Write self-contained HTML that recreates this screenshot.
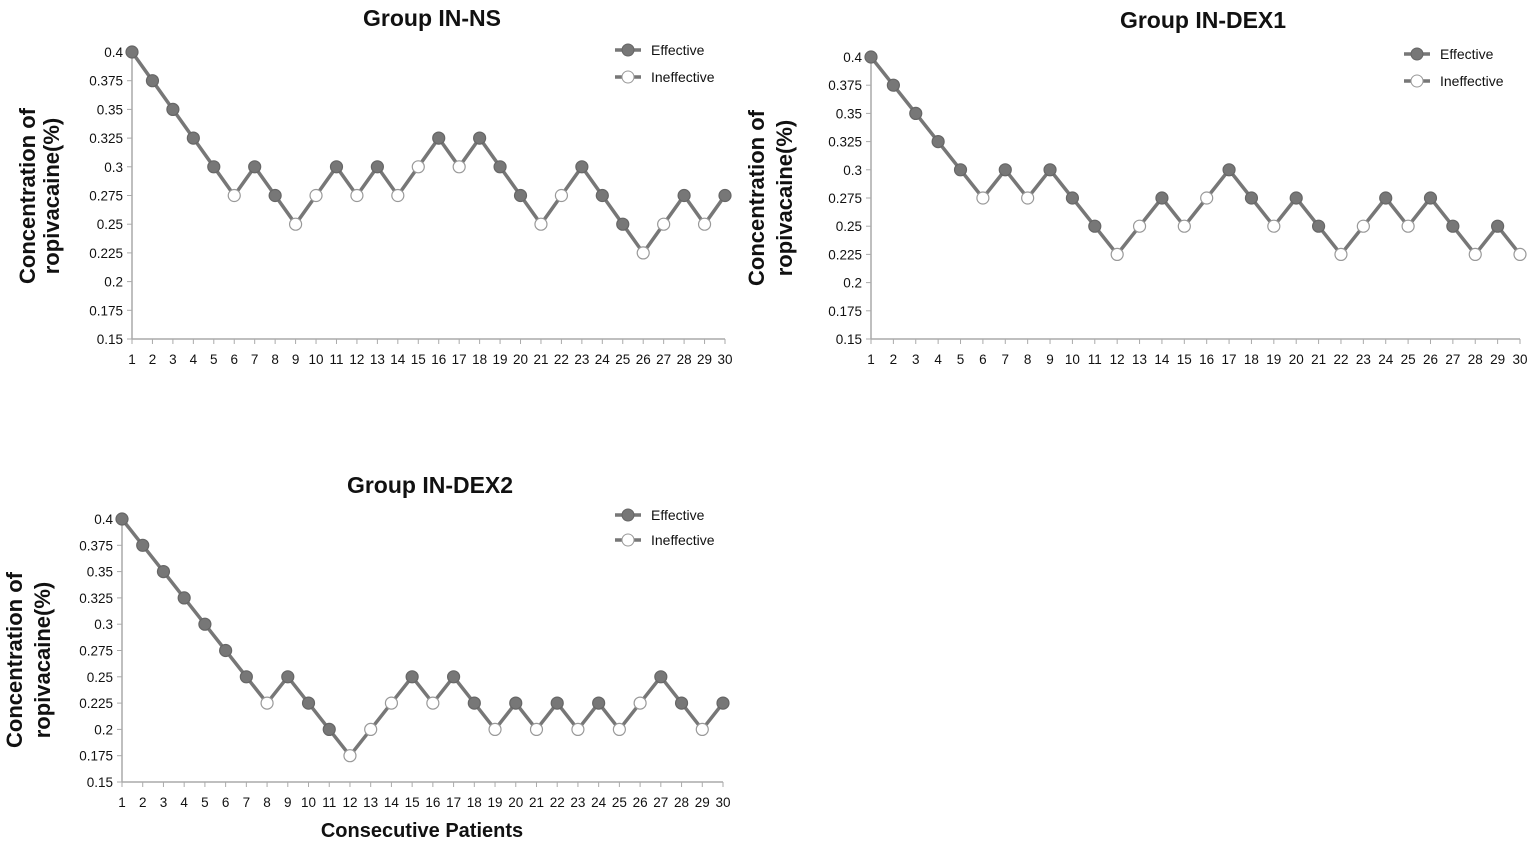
<!DOCTYPE html>
<html><head><meta charset="utf-8"><style>
body{margin:0;background:#fff;width:1535px;height:843px;overflow:hidden}
svg text{font-family:"Liberation Sans",sans-serif}
</style></head><body>
<svg id="s" width="1535" height="843" xmlns="http://www.w3.org/2000/svg"></svg>
<script>
const s=document.getElementById('s');let h='';
const ticks=['0.4','0.375','0.35','0.325','0.3','0.275','0.25','0.225','0.2','0.175','0.15'];
function chart(c){
 const {x0,x1,y0,y1,title,tx,ty,lx,ly1,ly2,yl1,yl2,ylc,data}=c;
 const X=i=>x0+(x1-x0)*i/29, Y=v=>y0+(0.4-v)/0.25*(y1-y0);
 h+=`<text x="${tx}" y="${ty}" font-size="23" font-weight="bold" text-anchor="middle" fill="#111">${title}</text>`;
 h+=`<line x1="${x0}" y1="${y0-4}" x2="${x0}" y2="${y1}" stroke="#aaa" stroke-width="1.5"/>`;
 h+=`<line x1="${x0}" y1="${y1}" x2="${x1}" y2="${y1}" stroke="#aaa" stroke-width="1.5"/>`;
 ticks.forEach((t,k)=>{const y=y0+k*(y1-y0)/10;h+=`<line x1="${x0-5}" y1="${y}" x2="${x0}" y2="${y}" stroke="#aaa"/><text x="${x0-9}" y="${y+5}" font-size="13.5" text-anchor="end" fill="#111">${t}</text>`});
 for(let i=0;i<30;i++){const x=X(i);h+=`<line x1="${x}" y1="${y1}" x2="${x}" y2="${y1+5}" stroke="#aaa"/><text x="${x}" y="${y1+25}" font-size="13.5" text-anchor="middle" fill="#111">${i+1}</text>`}
 h+=`<polyline fill="none" stroke="#777" stroke-width="3.5" points="${data.map((d,i)=>X(i)+','+Y(d[0])).join(' ')}"/>`;
 data.forEach((d,i)=>{h+=`<circle cx="${X(i)}" cy="${Y(d[0])}" r="6" fill="${d[1]?'#777':'#fff'}" stroke="${d[1]?'#666':'#999'}" stroke-width="1.2"/>`});
 [[ly1,1,'Effective'],[ly2,0,'Ineffective']].forEach(([y,e,t])=>{h+=`<line x1="${lx}" y1="${y}" x2="${lx+26}" y2="${y}" stroke="#777" stroke-width="3.5"/><circle cx="${lx+13}" cy="${y}" r="6" fill="${e?'#777':'#fff'}" stroke="${e?'#666':'#999'}"/><text x="${lx+36}" y="${y+5}" font-size="14" fill="#111">${t}</text>`});
 h+=`<g transform="translate(${yl1},${ylc}) rotate(-90)"><text x="0" y="0" font-size="22" font-weight="bold" text-anchor="middle" fill="#111">Concentration of</text></g>`;
 h+=`<g transform="translate(${yl2},${ylc}) rotate(-90)"><text x="0" y="0" font-size="22" font-weight="bold" text-anchor="middle" fill="#111">ropivacaine(%)</text></g>`;
}
const p=s=>s.split(' ').map(t=>[parseFloat(t),t.endsWith('E')?1:0]);
chart({x0:132,x1:725,y0:52,y1:339,title:'Group IN-NS',tx:432,ty:26,lx:615,ly1:50,ly2:77,yl1:35,yl2:59,ylc:196,
data:p('.4E .375E .35E .325E .3E .275I .3E .275E .25I .275I .3E .275I .3E .275I .3I .325E .3I .325E .3E .275E .25I .275I .3E .275E .25E .225I .25I .275E .25I .275E')});
chart({x0:871,x1:1520,y0:57,y1:339,title:'Group IN-DEX1',tx:1203,ty:28,lx:1404,ly1:54,ly2:81,yl1:764,yl2:792,ylc:198,
data:p('.4E .375E .35E .325E .3E .275I .3E .275I .3E .275E .25E .225I .25I .275E .25I .275I .3E .275E .25I .275E .25E .225I .25I .275E .25I .275E .25E .225I .25E .225I')});
chart({x0:122,x1:723,y0:519,y1:782,title:'Group IN-DEX2',tx:430,ty:493,lx:615,ly1:515,ly2:540,yl1:22,yl2:50,ylc:660,
data:p('.4E .375E .35E .325E .3E .275E .25E .225I .25E .225E .2E .175I .2I .225I .25E .225I .25E .225E .2I .225E .2I .225E .2I .225E .2I .225I .25E .225E .2I .225E')});
h+=`<text x="422" y="837" font-size="20" font-weight="bold" text-anchor="middle" fill="#111">Consecutive Patients</text>`;
s.innerHTML=h;
</script>
</body></html>
